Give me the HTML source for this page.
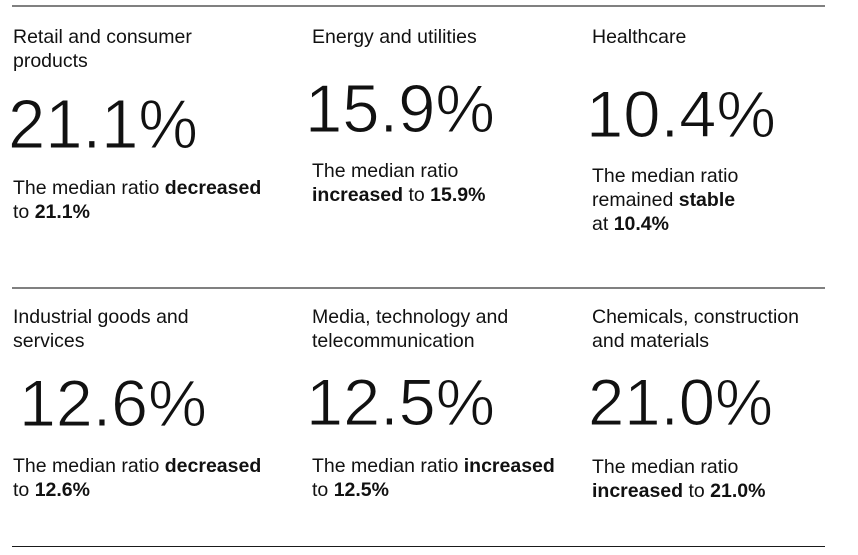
<!DOCTYPE html>
<html>
<head>
<meta charset="utf-8">
<style>
  html, body { margin: 0; padding: 0; background: #ffffff; }
  body { width: 858px; height: 555px; overflow: hidden; }
  svg { display: block; }
  text { font-family: "Liberation Sans", Arial, sans-serif; fill: #111111; }
  .t { font-size: 19.5px; }
  .d { font-size: 19.5px; }
  .b { font-weight: bold; }
  .n { font-size: 68px; stroke: #ffffff; stroke-width: 1.1px; paint-order: normal; }
</style>
</head>
<body>
<svg width="858" height="555" viewBox="0 0 858 555" xmlns="http://www.w3.org/2000/svg">
  <!-- rules -->
  <rect x="12" y="5" width="813" height="2" fill="#808080"/>
  <rect x="12" y="287" width="813" height="2" fill="#808080"/>
  <rect x="12" y="546" width="813" height="1" fill="#1a1a1a"/>

  <!-- Row 1, col 1 -->
  <text class="t" x="13" y="43">Retail and consumer</text>
  <text class="t" x="13" y="67">products</text>
  <text class="n" x="8" y="148" style="font-size:70px" textLength="190" lengthAdjust="spacingAndGlyphs">21.1%</text>
  <text class="d" x="13" y="194">The median ratio <tspan class="b">decreased</tspan></text>
  <text class="d" x="13" y="218">to <tspan class="b">21.1%</tspan></text>

  <!-- Row 1, col 2 -->
  <text class="t" x="312" y="43">Energy and utilities</text>
  <text class="n" x="305" y="132" textLength="190" lengthAdjust="spacingAndGlyphs">15.9%</text>
  <text class="d" x="312" y="177">The median ratio</text>
  <text class="d" x="312" y="201"><tspan class="b">increased</tspan> to <tspan class="b">15.9%</tspan></text>

  <!-- Row 1, col 3 -->
  <text class="t" x="592" y="43">Healthcare</text>
  <text class="n" x="586" y="137" style="font-size:66px" textLength="190" lengthAdjust="spacingAndGlyphs">10.4%</text>
  <text class="d" x="592" y="182">The median ratio</text>
  <text class="d" x="592" y="206">remained <tspan class="b">stable</tspan></text>
  <text class="d" x="592" y="230">at <tspan class="b">10.4%</tspan></text>

  <!-- Row 2, col 1 -->
  <text class="t" x="13" y="323">Industrial goods and</text>
  <text class="t" x="13" y="347">services</text>
  <text class="n" x="19" y="426" style="font-size:66px" textLength="188" lengthAdjust="spacingAndGlyphs">12.6%</text>
  <text class="d" x="13" y="472">The median ratio <tspan class="b">decreased</tspan></text>
  <text class="d" x="13" y="496">to <tspan class="b">12.6%</tspan></text>

  <!-- Row 2, col 2 -->
  <text class="t" x="312" y="323">Media, technology and</text>
  <text class="t" x="312" y="347">telecommunication</text>
  <text class="n" x="306" y="425" style="font-size:66px" textLength="189" lengthAdjust="spacingAndGlyphs">12.5%</text>
  <text class="d" x="312" y="472">The median ratio <tspan class="b">increased</tspan></text>
  <text class="d" x="312" y="496">to <tspan class="b">12.5%</tspan></text>

  <!-- Row 2, col 3 -->
  <text class="t" x="592" y="323">Chemicals, construction</text>
  <text class="t" x="592" y="347">and materials</text>
  <text class="n" x="588" y="425" style="font-size:66px" textLength="185" lengthAdjust="spacingAndGlyphs">21.0%</text>
  <text class="d" x="592" y="473">The median ratio</text>
  <text class="d" x="592" y="497"><tspan class="b">increased</tspan> to <tspan class="b">21.0%</tspan></text>
</svg>
</body>
</html>
